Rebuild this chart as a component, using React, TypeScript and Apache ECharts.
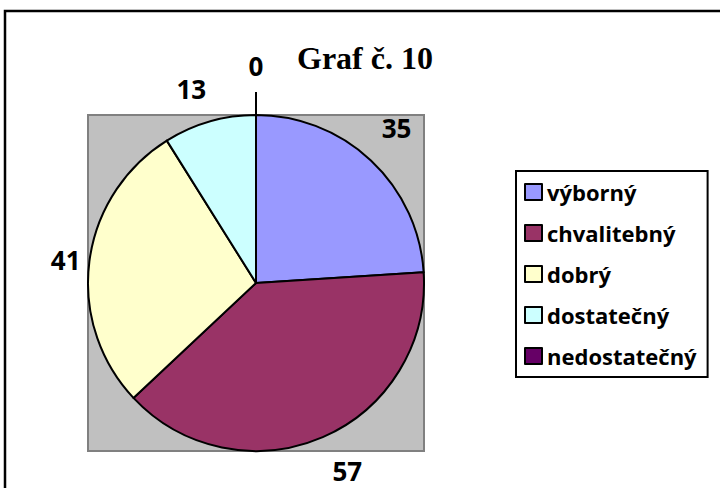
import React, { useEffect, useRef } from 'react';
import * as echarts from 'echarts';

const TITLE = 'Graf č. 10';
const CATEGORIES = ['výborný', 'chvalitebný', 'dobrý', 'dostatečný', 'nedostatečný'];
const VALUES = [35, 57, 41, 13, 0];
const COLORS = ['#9999FF', '#993366', '#FFFFCC', '#CCFFFF', '#660066'];
// leader (label offset) lengths per slice, used only for label placement
const LABEL_LINE_LEN = [45, 37, 12, 34, 23];
const LABEL_LINE_LEN2 = [-20, -5, -3, -6, 0];

export default function App() {
  const ref = useRef<HTMLDivElement>(null);
  useEffect(() => {
    document.body.style.margin = '0';
    if (!ref.current) return;
    const chart = echarts.init(ref.current, undefined, { renderer: 'svg' });
    chart.setOption({
      animation: false,
      backgroundColor: '#fff',
      title: {
        text: TITLE,
        left: 297,
        top: 42,
        padding: 0,
        textStyle: { fontFamily: 'Liberation Serif', fontWeight: 'bold', fontSize: 32, color: '#000' },
      },
      graphic: [
        {
          type: 'rect',
          z: 0,
          silent: true,
          shape: { x: 5, y: 11, width: 760, height: 540 },
          style: { fill: 'none', stroke: '#000', lineWidth: 2.5 },
        },
        {
          type: 'rect',
          z: 0,
          silent: true,
          shape: { x: 88, y: 115, width: 336, height: 336 },
          style: { fill: '#C0C0C0', stroke: '#808080', lineWidth: 2 },
        },
      ],
      legend: {
        orient: 'vertical',
        left: 516,
        top: 171,
        padding: [10, 11, 10, 8],
        itemGap: 19,
        itemWidth: 17,
        itemHeight: 16,
        borderColor: '#000',
        borderWidth: 2,
        icon: 'rect',
        selectedMode: false,
        data: CATEGORIES,
        textStyle: { fontFamily: 'Open Sans', fontWeight: 'bold', fontSize: 22, color: '#000' },
      },
      series: [
        {
          type: 'pie',
          center: [256, 283],
          radius: 168,
          startAngle: 90,
          clockwise: true,
          avoidLabelOverlap: false,
          emphasis: { disabled: true },
          itemStyle: { borderColor: '#000', borderWidth: 2 },
          label: {
            show: true,
            position: 'outside',
            formatter: (p: any) => (p.value === 0 ? p.value + '\n\n' : String(p.value)),
            fontFamily: 'Open Sans',
            fontWeight: 'bold',
            fontSize: 26,
            lineHeight: 26,
            color: '#000',
            distanceToLabelLine: 0,
          },
          labelLine: { show: false, lineStyle: { color: '#000', width: 2 } },
          labelLayout: (params: any) =>
            VALUES[params.dataIndex] === 0 ? { align: 'center' } : {},
          data: CATEGORIES.map((name, i) => ({
            name,
            value: VALUES[i],
            itemStyle: { color: COLORS[i] },
            labelLine: {
              show: VALUES[i] === 0,
              length: LABEL_LINE_LEN[i],
              length2: LABEL_LINE_LEN2[i],
            },
          })),
        },
      ],
    });
    return () => chart.dispose();
  }, []);
  return <div ref={ref} style={{ width: 720, height: 488 }} />;
}
